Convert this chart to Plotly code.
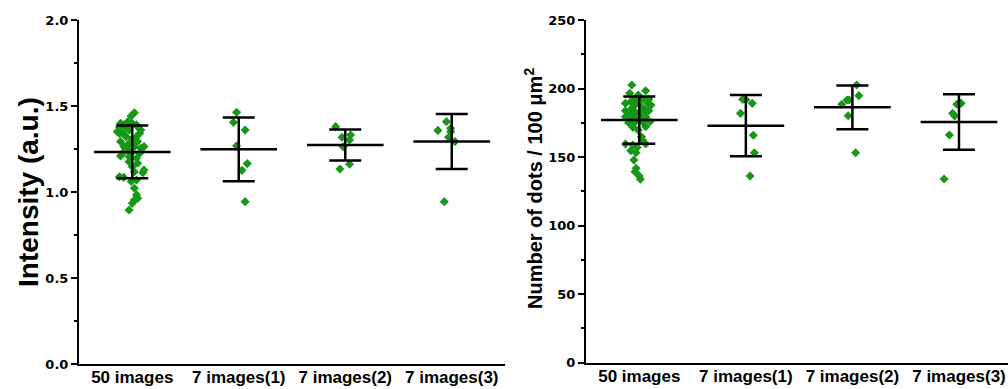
import plotly.graph_objects as go

categories = ["50 images", "7 images(1)", "7 images(2)", "7 images(3)"]

# ---------- Left panel: Intensity (a.u.) ----------
int_mean = [1.233, 1.248, 1.273, 1.293]
int_sd = [0.153, 0.185, 0.090, 0.160]

int_g0 = [1.461, 1.442, 1.409, 1.399, 1.351, 1.341, 1.390, 1.360, 1.341, 1.322,
          1.312, 1.293, 1.283, 1.293, 1.264, 1.264, 1.225, 1.225, 1.225, 1.209,
          1.196, 1.176, 1.167, 1.147, 1.128, 1.112, 1.118, 1.089, 1.085, 1.070,
          1.061, 1.022, 0.983, 0.963, 0.953, 0.934, 0.895, 1.376, 1.376, 1.390,
          1.360, 1.322, 1.254, 1.264, 1.254, 1.341, 1.399, 1.380, 1.283, 1.205]
int_g0_jit = [0.02, -0.01, -0.04, -0.11, -0.14, -0.09, 0.04, 0.08, 0.07, -0.06,
              0.00, -0.11, -0.03, 0.05, 0.02, 0.11, -0.09, -0.01, 0.07, -0.11,
              0.04, -0.03, 0.05, 0.00, 0.11, 0.10, 0.02, -0.12, -0.08, 0.04,
              -0.01, 0.02, 0.04, 0.05, 0.02, 0.00, -0.03, -0.12, -0.06, -0.08,
              -0.03, 0.04, -0.04, -0.08, 0.08, -0.12, 0.00, 0.05, 0.00, -0.03]
int_g1 = [1.463, 1.405, 1.360, 1.269, 1.165, 1.126, 0.944]
int_g1_jit = [-0.02, -0.05, 0.06, -0.02, 0.08, 0.03, 0.06]
int_g2 = [1.380, 1.318, 1.331, 1.302, 1.263, 1.134, 1.161]
int_g2_jit = [-0.09, -0.03, 0.05, 0.04, -0.02, -0.05, 0.04]
int_g3 = [1.409, 1.358, 1.370, 1.351, 1.318, 1.293, 0.944]
int_g3_jit = [-0.05, -0.13, -0.01, -0.01, -0.03, 0.03, -0.07]

# ---------- Right panel: Number of dots / 100 um^2 ----------
dot_mean = [177.0, 172.9, 186.3, 175.6]
dot_sd = [17.2, 22.3, 16.0, 20.2]

dot_g0 = [202.6, 198.4, 196.5, 195.3, 192.1, 192.1, 192.1, 189.2, 189.2, 189.2,
          188.0, 186.7, 186.7, 183.8, 183.8, 183.8, 184.8, 183.8, 181.9, 179.4,
          179.4, 179.4, 177.0, 177.0, 175.8, 175.1, 174.6, 175.8, 172.1, 169.7,
          164.8, 162.4, 159.5, 159.5, 158.8, 157.1, 154.6, 153.2, 147.8, 141.8,
          139.3, 136.2, 133.8, 190.4, 191.1, 182.4, 180.7, 181.4, 178.3, 171.7]
dot_g0_jit = [-0.07, 0.06, -0.09, -0.01, -0.05, 0.03, 0.09, -0.13, -0.03, 0.08,
              0.11, -0.06, 0.02, -0.13, -0.09, -0.05, 0.05, 0.09, 0.00, -0.13,
              -0.06, 0.06, -0.09, -0.03, 0.03, -0.10, -0.05, 0.10, 0.06, -0.01,
              0.02, 0.03, 0.06, -0.13, -0.06, -0.02, -0.08, -0.03, -0.05, -0.03,
              -0.04, 0.00, 0.01, -0.08, -0.02, 0.05, -0.03, -0.08, 0.02, -0.06]
dot_g1 = [192.1, 189.2, 181.9, 165.9, 153.2, 136.2, 191.8]
dot_g1_jit = [-0.03, 0.06, -0.05, 0.07, 0.08, 0.04, 0.00]
dot_g2 = [202.6, 194.8, 191.6, 191.6, 188.5, 180.2, 153.2]
dot_g2_jit = [0.04, 0.06, -0.05, -0.03, -0.10, -0.04, 0.03]
dot_g3 = [189.2, 188.5, 181.9, 180.0, 166.1, 134.0, 189.5]
dot_g3_jit = [0.02, -0.02, -0.06, -0.04, -0.09, -0.14, 0.00]

GREEN = "#169816"
FONT = "Liberation Sans, Arial, sans-serif"

fig = go.Figure()


def add_points(groups, jits, xa, ya):
    for i, (vals, jit) in enumerate(zip(groups, jits)):
        fig.add_trace(go.Scatter(
            x=[i + j for j in jit], y=vals, mode="markers",
            marker=dict(symbol="diamond", size=7, color=GREEN),
            xaxis=xa, yaxis=ya, showlegend=False, hoverinfo="y"))


def add_bars(means, sds, xa, ya):
    fig.add_trace(go.Scatter(
        x=list(range(len(means))), y=means, mode="markers",
        marker=dict(size=1, color="rgba(0,0,0,0)"),
        error_y=dict(type="data", array=sds, visible=True, width=16,
                     thickness=2.5, color="black"),
        error_x=dict(type="constant", value=0.36, visible=True, width=0,
                     thickness=2.5, color="black"),
        xaxis=xa, yaxis=ya, showlegend=False, hoverinfo="y"))


add_points([int_g0, int_g1, int_g2, int_g3],
           [int_g0_jit, int_g1_jit, int_g2_jit, int_g3_jit], "x", "y")
add_bars(int_mean, int_sd, "x", "y")
add_points([dot_g0, dot_g1, dot_g2, dot_g3],
           [dot_g0_jit, dot_g1_jit, dot_g2_jit, dot_g3_jit], "x2", "y2")
add_bars(dot_mean, dot_sd, "x2", "y2")

xcommon = dict(tickmode="array", tickvals=[0, 1, 2, 3], ticktext=categories,
               showline=True, linecolor="black", linewidth=2, ticks="",
               showgrid=False, zeroline=False, automargin=False,
               ticklabelstandoff=-3,
               tickfont=dict(family=FONT, size=17, color="black", weight="bold"))
ycommon = dict(showline=True, linecolor="black", linewidth=2, ticks="outside",
               ticklen=6, tickwidth=2, tickcolor="black", showgrid=False,
               zeroline=False, automargin=False,
               tickfont=dict(family="DejaVu Sans, sans-serif", size=13,
                             color="black", weight="bold"))

fig.update_layout(
    width=1008, height=389,
    margin=dict(l=0, r=0, t=0, b=0, autoexpand=False),
    paper_bgcolor="white", plot_bgcolor="white",
    font=dict(family=FONT, color="black"),
    xaxis=dict(domain=[79 / 1008, 505 / 1008], range=[-0.5, 3.5], anchor="y",
               **xcommon),
    yaxis=dict(domain=[1 - 364 / 389, 1 - 20 / 389], range=[0, 2.0], dtick=0.5,
               tick0=0, tickformat=".1f", anchor="x",
               minor=dict(dtick=0.25, ticks="outside", ticklen=3,
                          tickwidth=2, tickcolor="black"),
               **ycommon),
    xaxis2=dict(domain=[586 / 1008, 1.0], range=[-0.5, 3.46], anchor="y2",
                **xcommon),
    yaxis2=dict(domain=[1 - 362.7 / 389, 1 - 20 / 389], range=[0, 250],
                dtick=50, tick0=0, anchor="x2",
                minor=dict(dtick=25, ticks="outside", ticklen=3,
                           tickwidth=2, tickcolor="black"),
                **ycommon),
    annotations=[
        dict(text="Intensity (a.u.)", textangle=-90, xref="paper",
             yref="paper", x=28 / 1008, y=1 - 192 / 389, xanchor="center",
             yanchor="middle", showarrow=False,
             font=dict(family=FONT, size=28, color="black", weight="bold")),
        dict(text="Number of dots / 100 μm<sup>2</sup>", textangle=-90,
             xref="paper", yref="paper", x=533 / 1008, y=1 - 189 / 389,
             xanchor="center", yanchor="middle", showarrow=False,
             font=dict(family=FONT, size=20, color="black", weight="bold")),
    ],
)

fig.write_html(
    "out.html",
    config={"displayModeBar": False},
    post_script="document.body.style.margin='0';"
                "document.body.style.overflow='hidden';",
)
